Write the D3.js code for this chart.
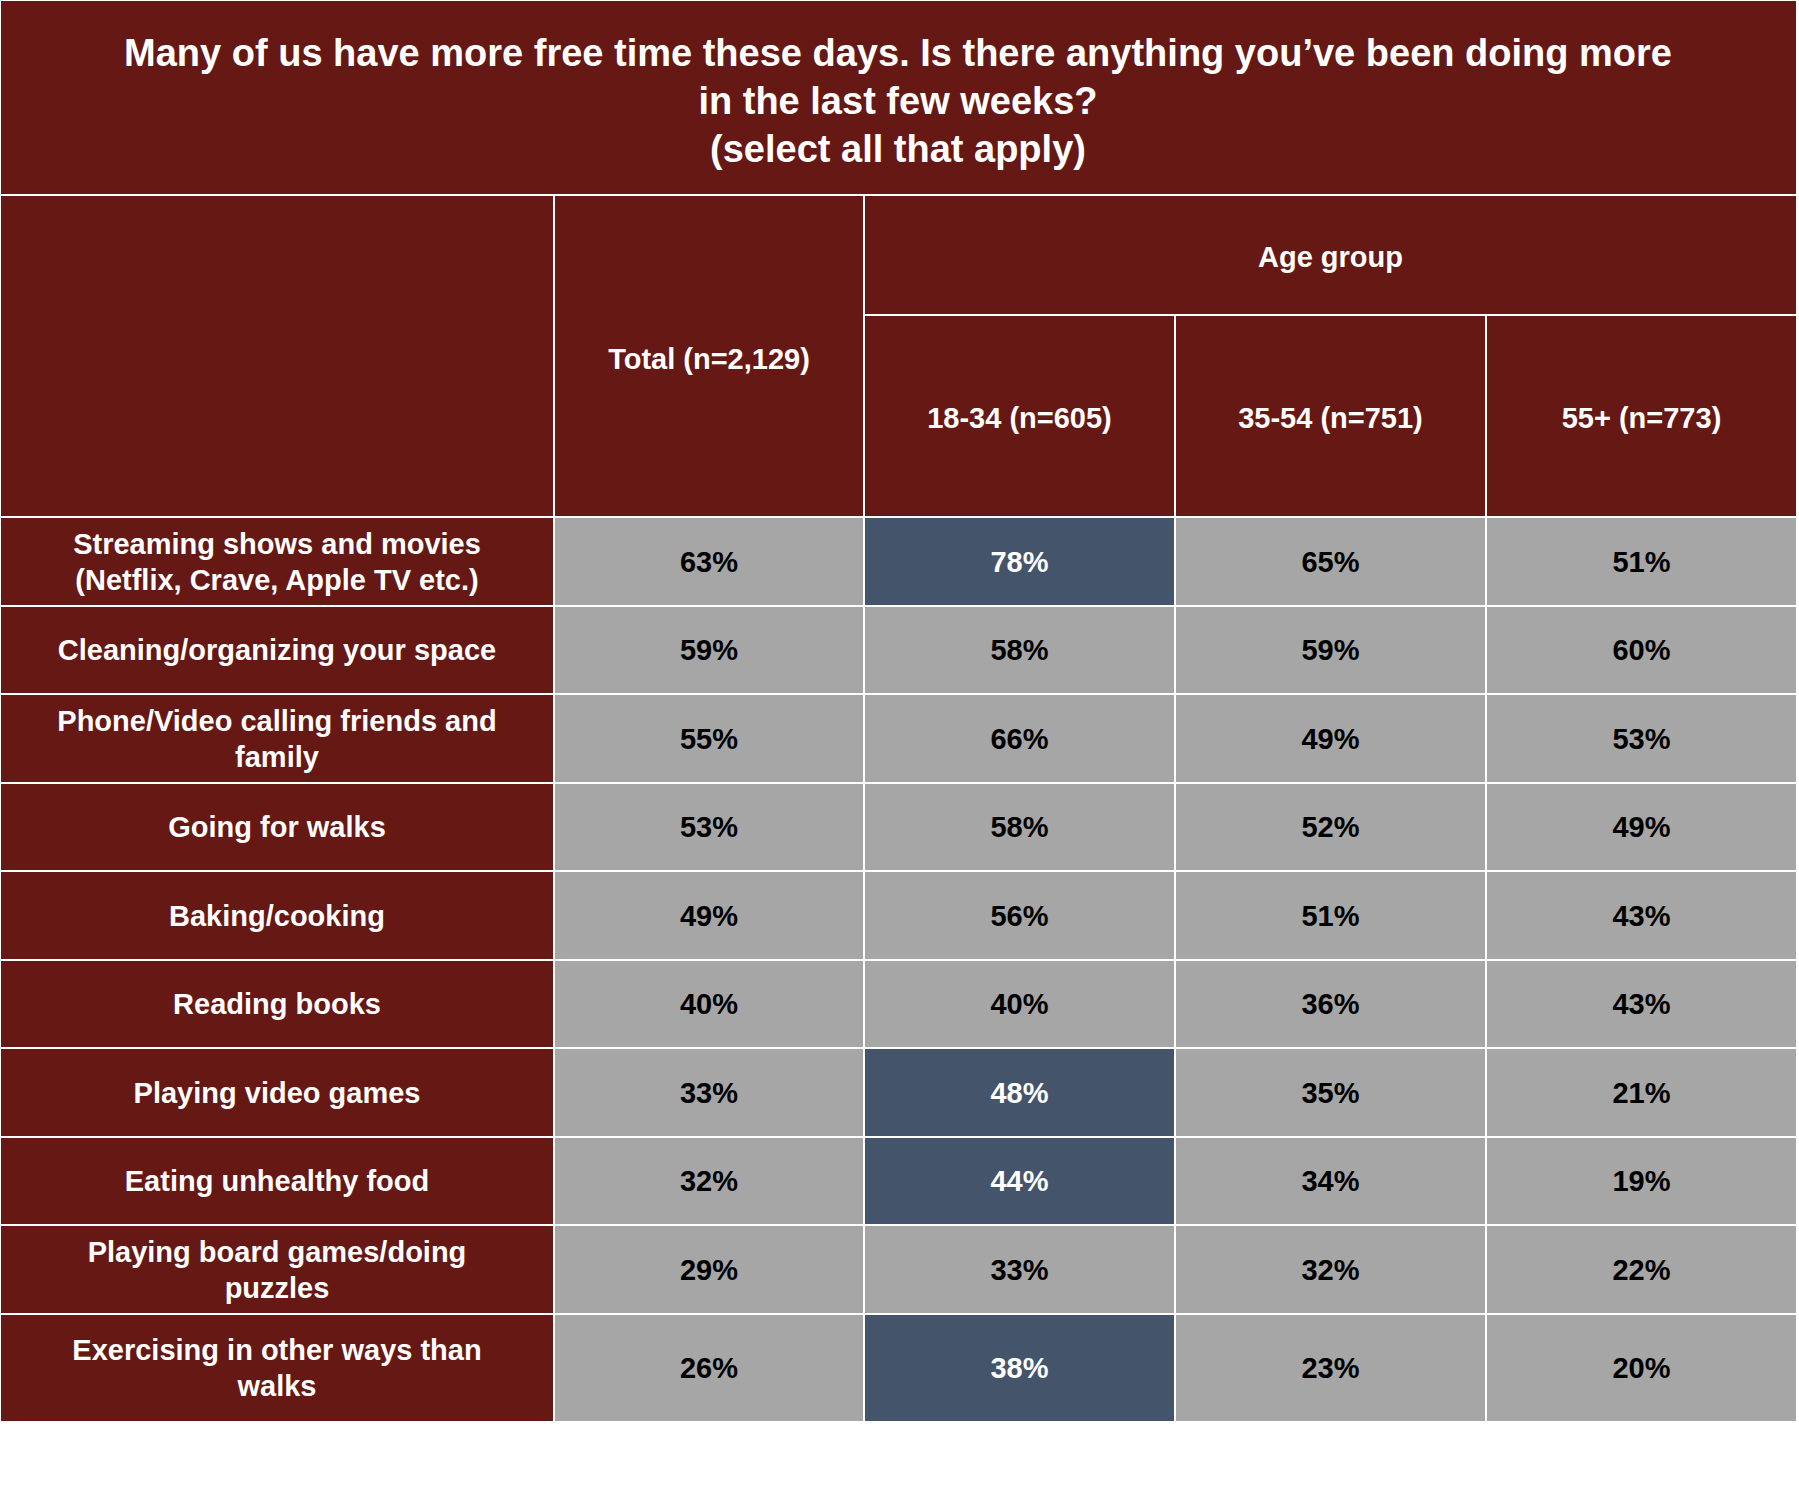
<!DOCTYPE html>
<meta charset="utf-8">
<style>
  body { margin: 0; background: #fff; }
  text { font-family: "Liberation Sans", Arial, sans-serif; font-weight: bold; }
</style>
<div id="chart"></div>
<script src="https://d3js.org/d3.v7.min.js"></script>
<script>

var title = ["Many of us have more free time these days. Is there anything you\u2019ve been doing more",
             "in the last few weeks?", "(select all that apply)"];
var columns = ["Total (n=2,129)", "18-34 (n=605)", "35-54 (n=751)", "55+ (n=773)"];
var rows = [
  ["Streaming shows and movies", "(Netflix, Crave, Apple TV etc.)"],
  ["Cleaning/organizing your space"],
  ["Phone/Video calling friends and", "family"],
  ["Going for walks"],
  ["Baking/cooking"],
  ["Reading books"],
  ["Playing video games"],
  ["Eating unhealthy food"],
  ["Playing board games/doing", "puzzles"],
  ["Exercising in other ways than", "walks"]
];
var total = [63, 59, 55, 53, 49, 40, 33, 32, 29, 26];
var age1834 = [78, 58, 66, 58, 56, 40, 48, 44, 33, 38];
var age3554 = [65, 59, 49, 52, 51, 36, 35, 34, 32, 23];
var age55 = [51, 60, 53, 49, 43, 43, 21, 19, 22, 20];
// cells highlighted in the 18-34 column
var highlight = [0, 6, 7, 9];

var maroon = "#661814", grey = "#a6a6a6", navy = "#44546a";
var W = 1799, H = 1508;

var svg = d3.select("#chart").append("svg").attr("width", W).attr("height", H);

// column edges
var x = d3.scaleOrdinal().domain([0, 1, 2, 3, 4, 5]).range([0, 554, 864, 1175, 1486, 1797]);
// row edges (last row is taller)
var rowEdges = [517, 606, 694, 783, 871, 960, 1048, 1137, 1225, 1314, 1422];
var y = d3.scaleOrdinal().domain(d3.range(rowEdges.length)).range(rowEdges);

function cell(x0, y0, x1, y1, fill) {
  svg.append("rect").attr("x", x0).attr("y", y0).attr("width", x1 - x0).attr("height", y1 - y0)
    .attr("fill", fill).attr("stroke", "#fff").attr("stroke-width", 2);
}
function label(lines, cx, cy, size, color, lh) {
  var t = svg.append("text").attr("text-anchor", "middle").attr("font-size", size).attr("fill", color);
  var off = -(lines.length - 1) / 2 * lh;
  lines.forEach(function(l, i) {
    t.append("tspan").attr("x", cx).attr("y", cy + off + i * lh).attr("dy", "0.35em").text(l);
  });
}

// title
cell(0, 0, 1797, 195, maroon);
label(title, 898, 101, 38, "#fff", 48);

// header
cell(x(0), 195, x(1), 517, maroon);
cell(x(1), 195, x(2), 517, maroon);
label([columns[0]], (x(1) + x(2)) / 2, 359, 29, "#fff", 36);
cell(x(2), 195, x(5), 315, maroon);
label(["Age group"], (x(2) + x(5)) / 2, 257, 29, "#fff", 36);
for (var c = 1; c < 4; c++) {
  cell(x(c + 1), 315, x(c + 2), 517, maroon);
  label([columns[c]], (x(c + 1) + x(c + 2)) / 2, 418, 29, "#fff", 36);
}

var series = [total, age1834, age3554, age55];
rows.forEach(function(r, i) {
  var y0 = y(i), y1 = y(i + 1), cy = (y0 + y1) / 2;
  cell(x(0), y0, x(1), y1, maroon);
  label(r, (x(0) + x(1)) / 2, cy, 29, "#fff", 36);
  series.forEach(function(s, j) {
    var hi = j === 1 && highlight.indexOf(i) >= 0;
    cell(x(j + 1), y0, x(j + 2), y1, hi ? navy : grey);
    label([s[i] + "%"], (x(j + 1) + x(j + 2)) / 2, cy, 29, hi ? "#fff" : "#000", 36);
  });
});
</script>
